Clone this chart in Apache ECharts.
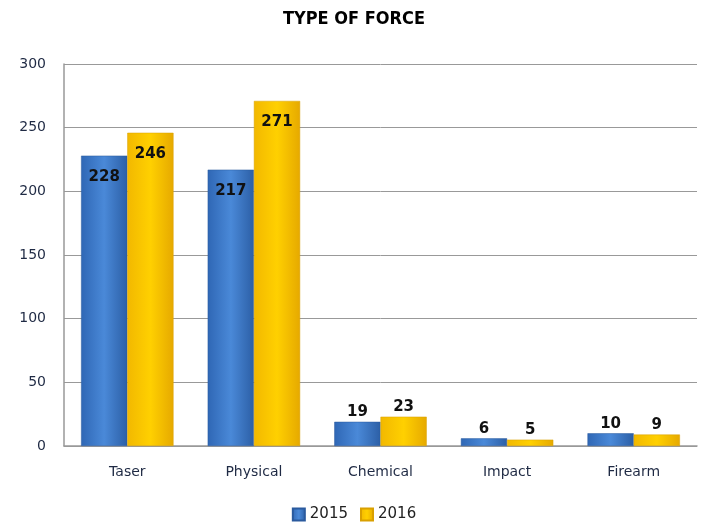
<!DOCTYPE html>
<html><head><meta charset="utf-8">
<script src="https://cdn.jsdelivr.net/npm/echarts@6/dist/echarts.min.js"></script>
<style>html,body{margin:0;padding:0;background:#fff}#c{width:708px;height:523px}</style>
</head><body><div id="c"></div>
<script>
const categories = ['Taser', 'Physical', 'Chemical', 'Impact', 'Firearm'];
const values2015 = [228, 217, 19, 6, 10];
const values2016 = [246, 271, 23, 5, 9];
const yTicks = { min: 0, max: 300, interval: 50 };

const chart = echarts.init(document.getElementById('c'));
const font = 'DejaVu Sans';
function grad(c1, c2, c3) {
  return new echarts.graphic.LinearGradient(0, 0, 1, 0, [
    { offset: 0, color: c1 }, { offset: 0.5, color: c2 }, { offset: 1, color: c3 }
  ]);
}
function mk(vals) {
  return vals.map(v => ({
    value: v,
    label: { position: v > 100 ? 'insideTop' : 'top', distance: v > 100 ? 14 : 2 }
  }));
}
const labelStyle = { show: true, color: '#111', fontFamily: font, fontWeight: 'bold', fontSize: 15 };
chart.setOption({
  animation: false,
  title: { text: 'TYPE OF FORCE', left: 'center', top: 5,
    textStyle: { fontFamily: 'DejaVu Sans Condensed', fontWeight: 'bold', fontSize: 18, color: '#000' } },
  grid: { left: 64, right: 11, top: 64, bottom: 77 },
  legend: { bottom: -4, left: 'center', itemWidth: 12, itemHeight: 12, itemGap: 12,
    textStyle: { fontFamily: font, fontSize: 15, color: '#222' },
    data: [{ name: '2015', icon: 'rect' }, { name: '2016', icon: 'rect' }] },
  xAxis: { type: 'category', data: categories,
    axisLine: { lineStyle: { color: '#999', width: 1.5 } }, axisTick: { show: false },
    axisLabel: { fontFamily: font, fontSize: 14, color: '#1f2a44', margin: 19 } },
  yAxis: { type: 'value', min: yTicks.min, max: yTicks.max, interval: yTicks.interval,
    axisLine: { show: true, lineStyle: { color: '#999', width: 1.5 } }, axisTick: { show: false },
    splitLine: { lineStyle: { color: '#999', width: 1 } },
    axisLabel: { fontFamily: font, fontSize: 14, color: '#1f2a44', margin: 18 } },
  series: [
    { name: '2015', type: 'bar', data: mk(values2015), barGap: '0%', barCategoryGap: '27%',
      itemStyle: { color: grad('#2f67b5', '#4a89d8', '#2c5fa6'), borderColor: '#2a5a9e', borderWidth: 0.5 },
      label: labelStyle },
    { name: '2016', type: 'bar', data: mk(values2016),
      itemStyle: { color: grad('#f2b800', '#ffd000', '#e6a900'), borderColor: '#d9a000', borderWidth: 0.5 },
      label: labelStyle }
  ]
});
</script></body></html>
